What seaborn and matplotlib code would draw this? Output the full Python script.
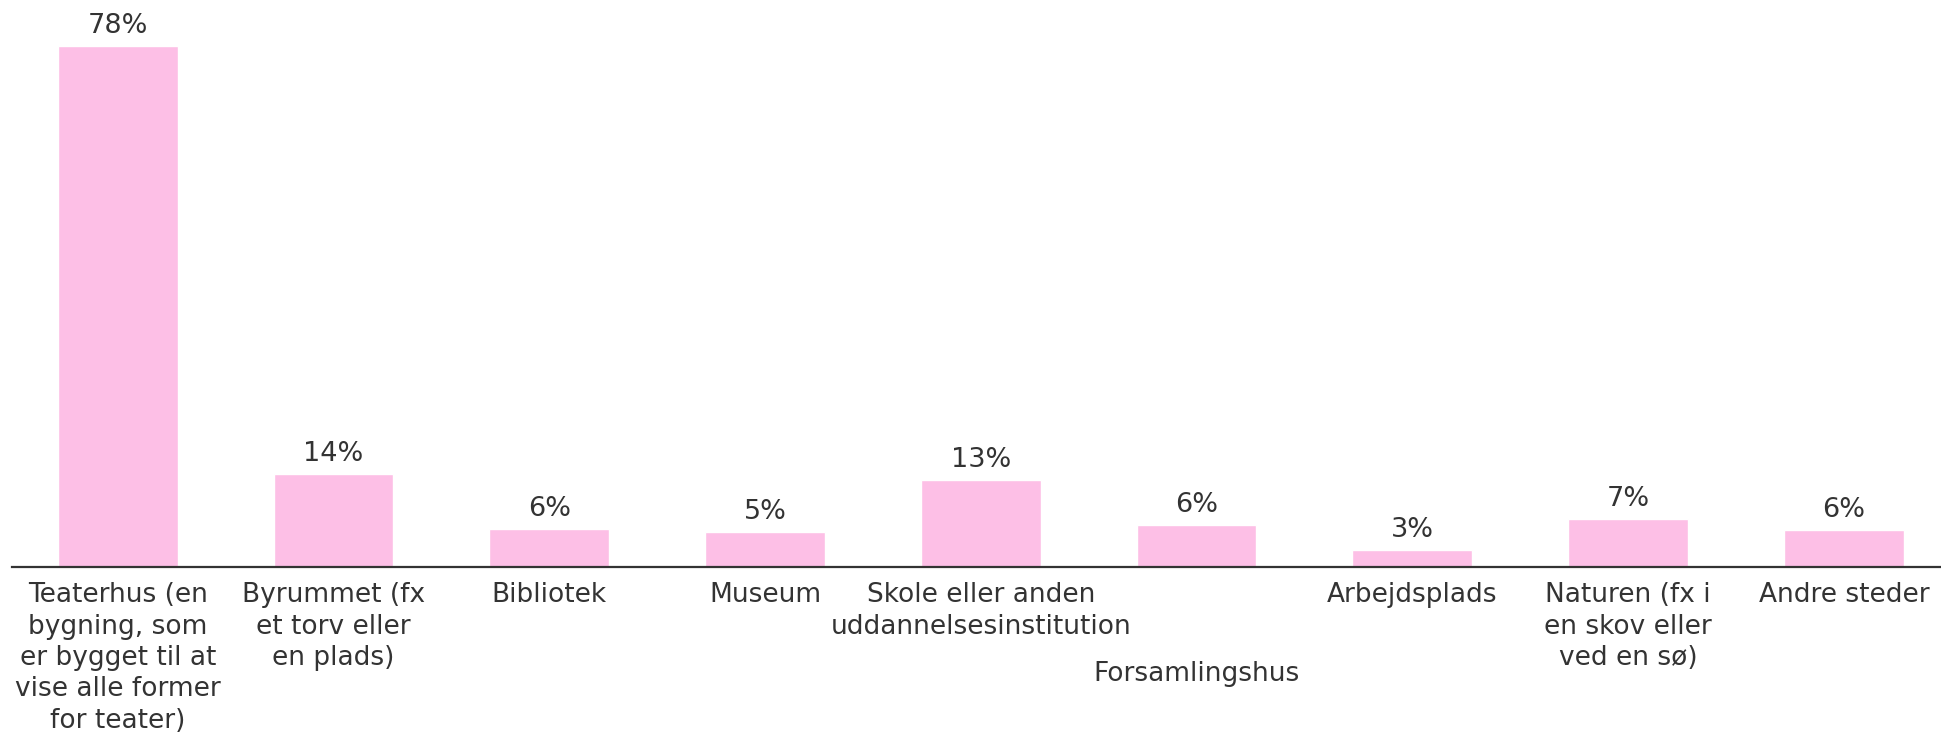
import seaborn as sns
import matplotlib.pyplot as plt
import pandas as pd

# Categories and shares (%)
categories = [
    "Teaterhus (en\nbygning, som\ner bygget til at\nvise alle former\nfor teater)",
    "Byrummet (fx\net torv eller\nen plads)",
    "Bibliotek",
    "Museum",
    "Skole eller anden\nuddannelsesinstitution",
    "Forsamlingshus",
    "Arbejdsplads",
    "Naturen (fx i\nen skov eller\nved en sø)",
    "Andre steder",
]
shares = [77.9, 13.9, 5.7, 5.2, 13.0, 6.3, 2.6, 7.2, 5.6]

df = pd.DataFrame({"sted": categories, "andel": shares})

sns.set_style("white")
plt.rcParams['font.family'] = ['DejaVu Sans']

text_color = "#333333"
bar_color = "#FDBFE6"

fig = plt.figure(figsize=(19.41, 7.36), dpi=100)
ax = fig.add_axes([12 / 1941, 1 - 567 / 736, 1 - 12 / 1941, 567 / 736])

sns.barplot(data=df, x="sted", y="andel", color=bar_color, saturation=1,
            width=0.555, ax=ax)

# value labels on top of the bars
ax.bar_label(ax.containers[0], labels=[f"{v:.0f}%" for v in shares],
             padding=5, fontsize=19.5, color=text_color)

ax.set_xlim(-0.49, 8.45)
ax.set_ylim(0, 84.75)
ax.set_xlabel("")
ax.set_ylabel("")
ax.set_yticks([])

ax.tick_params(axis="x", length=0, pad=11, labelsize=19, labelcolor=text_color)
for lbl in ax.get_xticklabels():
    lbl.set_linespacing(1.27)
# Forsamlingshus label sits lower than the others
ax.xaxis.get_major_ticks()[5].set_pad(68)

sns.despine(ax=ax, left=True)
ax.spines["bottom"].set_color(text_color)
ax.spines["bottom"].set_linewidth(1.6)

fig.savefig("out.png", dpi=100)
